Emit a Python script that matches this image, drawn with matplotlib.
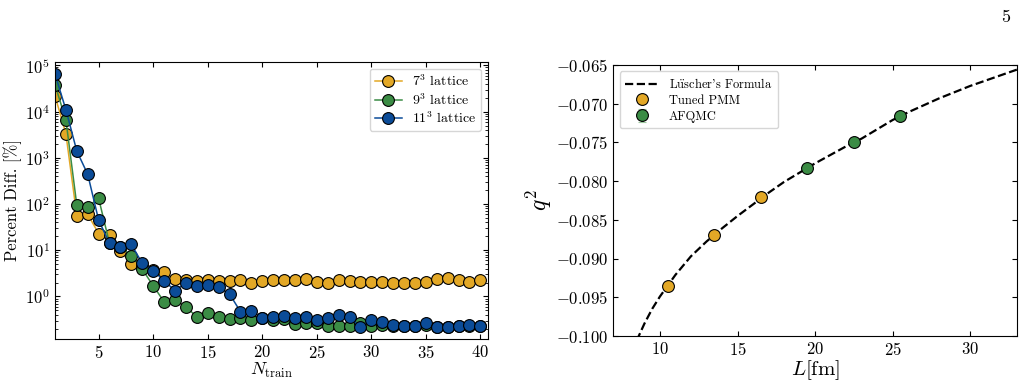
import matplotlib
matplotlib.use("Agg")
import matplotlib.pyplot as plt
import numpy as np

plt.rcParams['font.family'] = 'serif'
plt.rcParams['font.serif'] = ['cmr10', 'DejaVu Serif']
plt.rcParams['mathtext.fontset'] = 'cm'
plt.rcParams['axes.formatter.use_mathtext'] = True
plt.rcParams['axes.unicode_minus'] = True

# --- left panel data: percent difference vs number of training points
n_train = list(range(1, 41))
diff_7 = [2.2e4, 3.3e3, 56, 60, 23, 21, 9.8, 5.0, 4.5, 3.8,
          3.3, 2.35, 2.3, 2.15, 2.26, 2.2, 2.15, 2.25, 2.0, 2.15,
          2.26, 2.3, 2.23, 2.35, 2.05, 2.0, 2.3, 2.2, 2.05, 2.05,
          2.1, 2.0, 1.98, 1.98, 2.05, 2.4, 2.45, 2.3, 2.1, 2.23]
diff_9 = [3.8e4, 6.6e3, 95, 87, 133, 14, 12, 7.5, 3.9, 1.7,
          0.77, 0.84, 0.6, 0.36, 0.44, 0.36, 0.32, 0.34, 0.31, 0.34,
          0.31, 0.33, 0.25, 0.27, 0.26, 0.23, 0.23, 0.23, 0.27, 0.23,
          0.24, 0.23, 0.23, 0.23, 0.24, 0.22, 0.22, 0.23, 0.23, 0.23]
diff_11 = [6.5e4, 1.1e4, 1.4e3, 440, 45, 14, 12, 13.4, 5.2, 3.6,
           2.2, 1.33, 2.0, 1.7, 1.77, 1.57, 1.13, 0.47, 0.48, 0.35,
           0.36, 0.37, 0.35, 0.36, 0.31, 0.35, 0.40, 0.36, 0.22, 0.31,
           0.28, 0.24, 0.23, 0.23, 0.27, 0.22, 0.22, 0.23, 0.24, 0.23]

# --- right panel data
L_curve = [8.5, 9.0, 9.5, 10.0, 10.5, 11.0, 12.0, 13.0, 14.0, 15.0, 16.0, 17.0,
           18.0, 19.0, 20.0, 21.0, 22.0, 23.0, 24.0, 25.0, 26.0, 27.0, 28.0,
           29.0, 30.0, 31.0, 32.0, 33.0]
q2_curve = [-0.1006, -0.0984, -0.0965, -0.0949, -0.0935, -0.0921, -0.0897, -0.0878,
            -0.0861, -0.0845, -0.0830, -0.0815, -0.0801, -0.0789, -0.0777, -0.0766,
            -0.0755, -0.0745, -0.0733, -0.0721, -0.0711, -0.0702, -0.0693, -0.0685,
            -0.0677, -0.0670, -0.0663, -0.0656]
L_pmm = [10.5, 13.5, 16.5]
q2_pmm = [-0.0935, -0.0869, -0.0821]
L_afqmc = [19.5, 22.5, 25.5]
q2_afqmc = [-0.0783, -0.0750, -0.0716]
q2_afqmc_err = [0.0002, 0.0002, 0.0002]

yellow = '#E3A826'
green = '#3B8C45'
blue = '#0B4C98'

fig = plt.figure(figsize=(10.24, 3.86), dpi=100)
ax1 = fig.add_axes([0.0537, 0.1218, 0.4229, 0.7183])
ax2 = fig.add_axes([0.599, 0.1295, 0.394, 0.7021])

mk = dict(marker='o', markersize=8.5, markeredgecolor='black', markeredgewidth=0.8, linewidth=1.1)
ax1.plot(n_train, diff_7, color=yellow, markerfacecolor=yellow, label=r'$7^3$ lattice', **mk)
ax1.plot(n_train, diff_9, color=green, markerfacecolor=green, label=r'$9^3$ lattice', **mk)
ax1.plot(n_train, diff_11, color=blue, markerfacecolor=blue, label=r'$11^3$ lattice', **mk)
ax1.set_yscale('log')
ax1.set_xlim(1, 40.7)
ax1.set_ylim(0.12, 1.2e5)
ax1.set_xticks([5, 10, 15, 20, 25, 30, 35, 40])
ax1.set_xlabel(r'$N_{\rm train}$', fontsize=13, labelpad=0)
ax1.set_ylabel('Percent Diff. [%]', fontsize=12, labelpad=2)
ax1.tick_params(which='both', direction='in', top=True, right=True, labelsize=12)
ax1.legend(loc='upper right', fontsize=10, handlelength=2.0, borderpad=0.35,
           labelspacing=0.2, handletextpad=0.7)

# right panel
ax2.plot(L_curve, q2_curve, color='black', linestyle='--', linewidth=1.6,
         label="L$\\ddot{\\rm u}$scher's Formula")
ax2.plot(L_pmm, q2_pmm, linestyle='none', marker='o', markersize=8.5, color=yellow,
         markeredgecolor='black', markeredgewidth=0.8, label='Tuned PMM', zorder=3)
ax2.errorbar(L_afqmc, q2_afqmc, yerr=q2_afqmc_err, fmt='o', markersize=8.5, color=green,
             markeredgecolor='black', markeredgewidth=0.8, ecolor='#9cc79f', capsize=3,
             label='AFQMC', zorder=3)
ax2.set_xlim(7, 33)
ax2.set_ylim(-0.1, -0.065)
ax2.set_xticks([10, 15, 20, 25, 30])
ax2.set_yticks([-0.100, -0.095, -0.090, -0.085, -0.080, -0.075, -0.070, -0.065])
ax2.set_xlabel(r'$L[\mathrm{fm}]$', fontsize=15, labelpad=0)
ax2.set_ylabel(r'$q^2$', fontsize=17, labelpad=2)
ax2.tick_params(which='both', direction='in', top=True, right=True, labelsize=12)
ax2.legend(loc='upper left', fontsize=9, handlelength=2.6, borderpad=0.45,
           labelspacing=0.3, handletextpad=0.9)

fig.text(0.986, 0.955, '5', fontsize=13, ha='right', va='center')

fig.savefig('out.png', dpi=100)
